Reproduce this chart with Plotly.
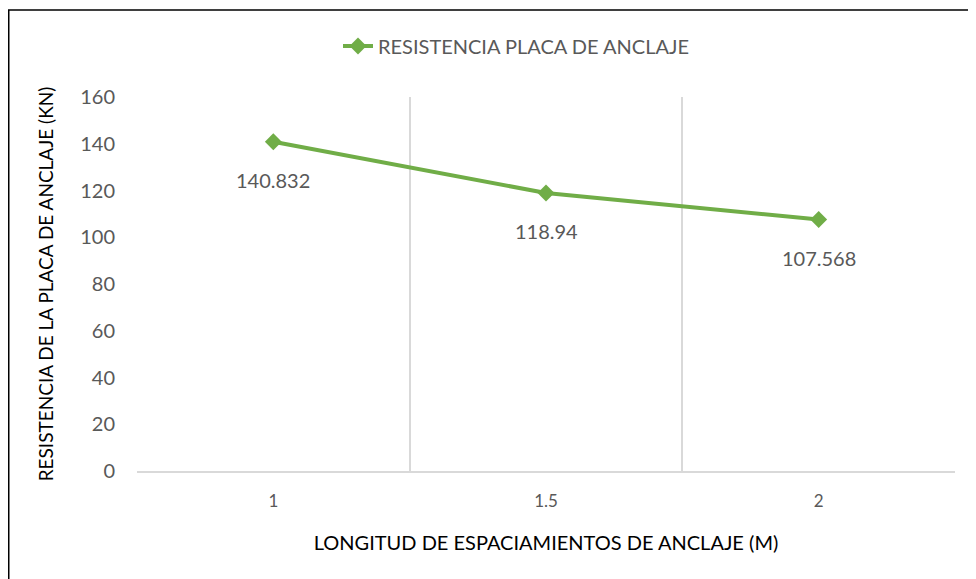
import plotly.graph_objects as go

categories = ["1", "1.5", "2"]
resistencia = [140.832, 118.94, 107.568]
label_text = ["140.832", "118.94", "107.568"]
y_ticks = [0, 20, 40, 60, 80, 100, 120, 140, 160]

GREEN = "#70ad47"
GRAY = "#595959"
GRID = "#d9d9d9"
FONT = "Lato"

xpos = list(range(len(categories)))

fig = go.Figure()
fig.add_trace(go.Scatter(
    x=xpos, y=resistencia, mode="lines+markers",
    name="RESISTENCIA PLACA DE ANCLAJE",
    line=dict(color=GREEN, width=4),
    marker=dict(symbol="diamond", size=13, color=GREEN),
))

for xv, yv, t in zip(xpos, resistencia, label_text):
    fig.add_annotation(x=xv, y=yv, text=t, showarrow=False, yshift=-38,
                       font=dict(family=FONT, size=20, color=GRAY))

# page is rendered with an 8px body margin
OFF = 8
W, H = 976 - OFF, 579 - OFF
ml, mr, mt, mb = 137 - OFF, 21, 97 - OFF, 108
pw, ph = W - ml - mr, H - mt - mb

def px_x(p):
    return (p - OFF - ml) / pw

def px_y(p):
    return (H - mb - (p - OFF)) / ph

fig.add_shape(type="rect", xref="paper", yref="paper",
              x0=px_x(8.75), x1=px_x(1000), y0=px_y(600), y1=px_y(10),
              line=dict(color="black", width=1.5), fillcolor="rgba(0,0,0,0)")

fig.update_layout(
    width=W, height=H,
    margin=dict(l=ml, r=mr, t=mt, b=mb),
    paper_bgcolor="white", plot_bgcolor="white",
    font=dict(family=FONT, color=GRAY),
    showlegend=True,
    legend=dict(orientation="h", x=0.5 - 30 / pw, xanchor="center", y=px_y(46), yanchor="middle",
                font=dict(family=FONT, size=20, color=GRAY), bgcolor="rgba(0,0,0,0)"),
    xaxis=dict(
        range=[-0.5, len(categories) - 0.5],
        tickvals=xpos, ticktext=categories,
        showgrid=False, zeroline=False,
        showline=True, linecolor=GRID, linewidth=1.5,
        ticks="", ticklabelstandoff=14,
        tickfont=dict(family=FONT, size=17, color=GRAY),
        minor=dict(tickvals=[i - 0.5 for i in range(len(categories) + 1)],
                   showgrid=True, gridcolor=GRID, gridwidth=1.5, ticks=""),
        title=dict(text="LONGITUD DE ESPACIAMIENTOS DE ANCLAJE (M)",
                   font=dict(family=FONT, size=20, color="black"), standoff=26),
    ),
    yaxis=dict(
        range=[0, 160], tickvals=y_ticks,
        showgrid=False, zeroline=False, showline=False,
        ticks="", ticklabelstandoff=21,
        tickfont=dict(family=FONT, size=20, color=GRAY),
        title=dict(text="RESISTENCIA DE LA PLACA DE ANCLAJE (KN)",
                   font=dict(family=FONT, size=19, color="black"), standoff=21),
    ),
)

fig.write_html("out.html")
